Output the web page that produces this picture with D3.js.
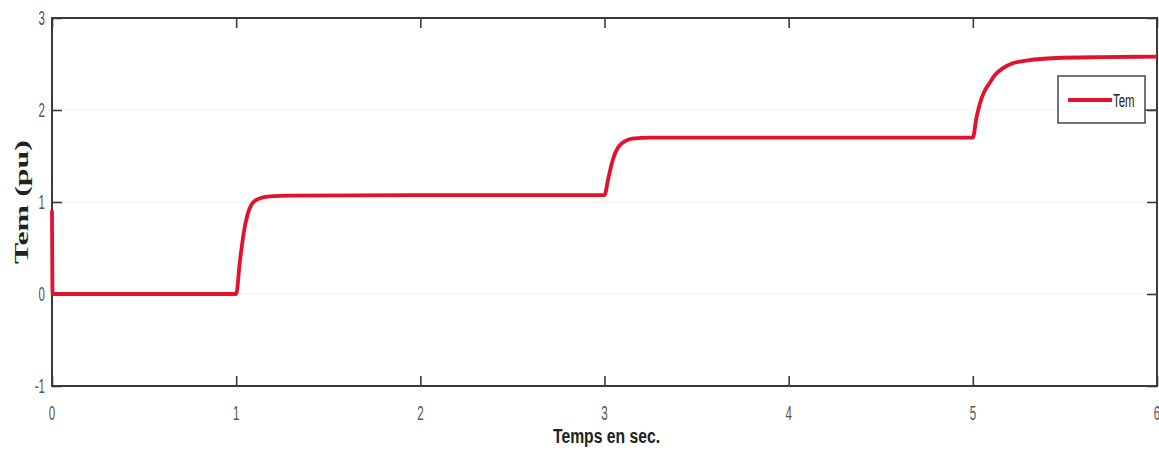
<!DOCTYPE html>
<html>
<head>
<meta charset="utf-8">
<script src="https://cdn.jsdelivr.net/npm/d3@7"></script>
<style>
  html, body { margin: 0; padding: 0; background: #fff; }
  svg { display: block; }
</style>
</head>
<body>
<svg id="chart" width="1159" height="452"></svg>
<script>
// Electromagnetic torque response (pu) versus time (s)
const timeSec = [0, 0.003, 1.0, 1.02, 1.04, 1.06, 1.08, 1.10, 1.13, 1.18, 1.30, 2.0, 3.0,
  3.02, 3.04, 3.06, 3.08, 3.11, 3.15, 3.25, 4.0, 5.0,
  5.02, 5.04, 5.06, 5.09, 5.12, 5.16, 5.22, 5.30, 5.45, 5.70, 6.0];
const temPu = [0.91, 0, 0, 0.35, 0.65, 0.85, 0.96, 1.01, 1.04, 1.06, 1.07, 1.075, 1.075,
  1.25, 1.42, 1.54, 1.61, 1.66, 1.69, 1.70, 1.70, 1.70,
  1.92, 2.08, 2.19, 2.29, 2.38, 2.45, 2.51, 2.54, 2.565, 2.575, 2.58];
const xTicks = [0, 1, 2, 3, 4, 5, 6];
const yTicks = [-1, 0, 1, 2, 3];
const seriesName = "Tem";

const svg = d3.select("#chart");
const m = { left: 52, right: 1157, top: 18, bottom: 386 };

const x = d3.scaleLinear().domain([0, 6]).range([m.left, m.right]);
const y = d3.scaleLinear().domain([-1, 3]).range([m.bottom, m.top]);

const axisColor = "#3a3a3a";
const tickFont = "'Liberation Sans', Arial, sans-serif";

// faint horizontal grid
svg.append("g").selectAll("line").data(yTicks.slice(1, -1)).join("line")
  .attr("x1", m.left).attr("x2", m.right)
  .attr("y1", d => y(d)).attr("y2", d => y(d))
  .attr("stroke", "#f1f1f1").attr("stroke-width", 1);

// inward ticks on all four sides
const tickLen = 10;
const bottomAxis = d3.axisBottom(x).tickValues(xTicks).tickSize(-tickLen).tickFormat("");
const topAxis = d3.axisTop(x).tickValues(xTicks).tickSize(-tickLen).tickFormat("");
const leftAxis = d3.axisLeft(y).tickValues(yTicks).tickSize(-tickLen).tickFormat("");
const rightAxis = d3.axisRight(y).tickValues(yTicks).tickSize(-tickLen).tickFormat("");

function styleAxis(g) {
  g.select(".domain").remove();
  g.selectAll(".tick line").attr("stroke", axisColor).attr("stroke-width", 1.6);
}
svg.append("g").attr("transform", `translate(0,${m.bottom})`).call(bottomAxis).call(styleAxis);
svg.append("g").attr("transform", `translate(0,${m.top})`).call(topAxis).call(styleAxis);
svg.append("g").attr("transform", `translate(${m.left},0)`).call(leftAxis).call(styleAxis);
svg.append("g").attr("transform", `translate(${m.right},0)`).call(rightAxis).call(styleAxis);

// tick labels (narrow face)
svg.append("g").selectAll("text").data(xTicks).join("text")
  .attr("transform", d => `translate(${x(d)},${m.bottom + 34}) scale(0.55,1)`)
  .attr("text-anchor", "middle")
  .attr("font-family", tickFont).attr("font-size", 21)
  .attr("fill", "#555")
  .text(d => d);

svg.append("g").selectAll("text").data(yTicks).join("text")
  .attr("transform", d => `translate(${m.left - 7},${y(d) + 7}) scale(0.55,1)`)
  .attr("text-anchor", "end")
  .attr("font-family", tickFont).attr("font-size", 21)
  .attr("fill", "#555")
  .text(d => d);

// plot frame
svg.append("rect")
  .attr("x", m.left).attr("y", m.top)
  .attr("width", m.right - m.left).attr("height", m.bottom - m.top)
  .attr("fill", "none").attr("stroke", axisColor).attr("stroke-width", 2);

// torque trace
const line = d3.line().x((d, i) => x(timeSec[i])).y(d => y(d)).curve(d3.curveMonotoneX);
svg.append("path")
  .datum(temPu)
  .attr("d", line)
  .attr("fill", "none")
  .attr("stroke", "#e3102e")
  .attr("stroke-width", 3.8)
  .attr("stroke-linejoin", "round");

// legend
const lg = svg.append("g");
lg.append("rect").attr("x", 1058).attr("y", 76).attr("width", 87).attr("height", 47)
  .attr("fill", "#fff").attr("stroke", axisColor).attr("stroke-width", 1.4);
lg.append("line").attr("x1", 1145).attr("x2", m.right).attr("y1", 110).attr("y2", 110)
  .attr("stroke", axisColor).attr("stroke-width", 1.2);
lg.append("line").attr("x1", 1068).attr("x2", 1112).attr("y1", 100).attr("y2", 100)
  .attr("stroke", "#e3102e").attr("stroke-width", 3.8);
lg.append("text")
  .attr("transform", "translate(1113,107) scale(0.6,1)")
  .attr("font-family", tickFont).attr("font-size", 19).attr("fill", "#222")
  .text(seriesName);

// axis titles
svg.append("text")
  .attr("transform", `translate(28,${(m.top + m.bottom) / 2}) rotate(-90)`)
  .attr("text-anchor", "middle")
  .attr("font-family", "'Liberation Serif', 'Times New Roman', serif")
  .attr("font-weight", "bold").attr("font-size", 19).attr("fill", "#222")
  .attr("textLength", 124).attr("lengthAdjust", "spacingAndGlyphs")
  .text("Tem (pu)");

svg.append("text")
  .attr("x", 553).attr("y", 443)
  .attr("font-family", tickFont)
  .attr("font-weight", "bold").attr("font-size", 20).attr("fill", "#222")
  .attr("textLength", 107).attr("lengthAdjust", "spacingAndGlyphs")
  .text("Temps en sec.");
</script>
</body>
</html>
